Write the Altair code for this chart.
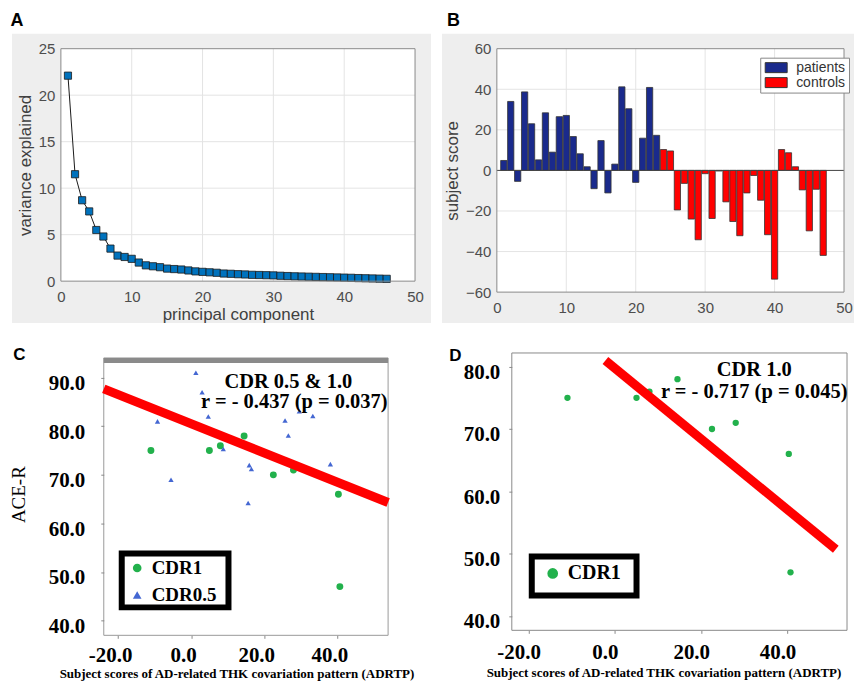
import altair as alt
import pandas as pd

SANS = "Liberation Sans"
SERIF = "Liberation Serif"
GRID = "#e4e4e4"
BOX = "#8a8a8a"

# ---------------- data ----------------
# Panel A : scree plot
pc_index = list(range(1, 47))
variance_explained = [22.1, 11.5, 8.7, 7.5, 5.5, 4.8, 3.5, 2.75, 2.6, 2.4,
                      2.0, 1.7, 1.6, 1.5, 1.35, 1.3, 1.25, 1.15, 1.05, 1.0,
                      0.95, 0.9, 0.82, 0.79, 0.75, 0.72, 0.68, 0.66, 0.64, 0.62,
                      0.58, 0.55, 0.52, 0.5, 0.48, 0.46, 0.44, 0.42, 0.4, 0.38,
                      0.36, 0.33, 0.31, 0.29, 0.27, 0.25]
a_x_ticks = [0, 10, 20, 30, 40, 50]
a_y_ticks = [0, 5, 10, 15, 20, 25]

# Panel B : subject scores
subject_index = list(range(1, 48))
subject_score = [4.9, 34.0, -5.4, 38.7, 23.0, 5.2, 28.4, 9.0, 26.5, 27.1,
                 16.7, 8.2, 1.8, -9.0, 14.7, -11.1, 3.1, 41.2, 30.4, -5.9,
                 15.9, 40.9, 17.3,
                 10.3, 9.6, -19.5, -6.4, -24.0, -34.2, -1.6, -23.7, -0.3, -15.5,
                 -25.2, -32.2, -11.1, -2.5, -14.7, -31.7, -53.6, 10.3, 8.7, 1.8,
                 -9.6, -29.8, -9.3, -41.9]
subject_group = ["patients"] * 23 + ["controls"] * 24
b_groups = ["patients", "controls"]
b_x_ticks = [0, 10, 20, 30, 40, 50]
b_y_ticks = [-60, -40, -20, 0, 20, 40, 60]

# Panels C / D : ACE-R vs ADRTP scores
cdr1_x = [-11.0, 5.0, 8.0, 14.5, 22.5, 28.0, 40.3, 40.7]
cdr1_y = [75.0, 75.0, 76.0, 78.0, 70.0, 71.0, 66.0, 47.0]
cdr05_x = [1.3, 3.0, -9.2, 4.7, 8.8, -5.5, 15.9, 16.5, 15.6, 25.7, 26.6, 29.6, 33.3, 38.1]
cdr05_y = [91.0, 87.0, 81.0, 82.0, 75.3, 69.0, 72.0, 71.2, 64.2, 81.2, 78.1, 83.1, 82.1, 72.2]
cdr_groups = ["CDR1", "CDR0.5"]
c_fit_x = [-23.9, 53.9]
c_fit_y = [87.7, 64.3]
d_fit_x = [-2.2, 51.2]
d_fit_y = [81.0, 50.7]
cd_x_ticks = [-20, 0, 20, 40]
c_y_ticks = [40, 50, 60, 70, 80, 90]
d_y_ticks = [40, 50, 60, 70, 80]
c_annotations = ["CDR 0.5 & 1.0", "r = - 0.437 (p = 0.037)"]
d_annotations = ["CDR 1.0", "r = - 0.717 (p = 0.045)"]
x_title_cd = "Subject scores of AD-related THK covariation pattern (ADRTP)"


# ---------------- helpers ----------------
def prect(x1, x2, y1, y2, **mk):
    return alt.Chart(alt.Data(values=[{"k": 1}])).mark_rect(**mk).encode(
        x=alt.value(x1), x2=alt.value(x2), y=alt.value(y1), y2=alt.value(y2))


def ptext(s, x, y, **mk):
    return alt.Chart(alt.Data(values=[{"t": s}])).mark_text(**mk).encode(
        x=alt.value(x), y=alt.value(y), text="t:N")


def frame(x1, x2, y1, y2, color, width=1):
    return prect(x1, x2, y1, y2, fill="white", fillOpacity=0, stroke=color, strokeWidth=width)


def matlab_axis(values, title, lp, tp):
    return alt.Axis(values=values, title=title, grid=False, ticks=False, domain=False,
                    labelFont=SANS, labelFontSize=15, labelColor="#4d4d4d", labelPadding=lp,
                    labelFlush=False, labelOverlap=False,
                    titleFont=SANS, titleFontSize=17, titleFontWeight="normal",
                    titleColor="#404040", titlePadding=tp, zindex=1)


NEG = "(datum.value < 0 ? '-' : '') + format(abs(datum.value), '.1f')"


def serif_x_axis(title_x, lo, lp, tp):
    return alt.Axis(values=cd_x_ticks, labelExpr=NEG, title=x_title_cd, grid=False, domain=False,
                    ticks=True, tickSize=3, tickColor=BOX, labelFont=SERIF, labelFontWeight="bold",
                    labelFontSize=21, labelColor="black", labelOffset=lo, labelPadding=lp,
                    labelFlush=False, labelOverlap=False,
                    titleFont=SERIF, titleFontSize=13, titleFontWeight="bold", titleColor="black",
                    titlePadding=tp, titleX=title_x, titleAlign="center", zindex=1)


def serif_y_axis(values, title, lp, tp):
    kw = dict(values=values, labelExpr=NEG, grid=False, domain=False, ticks=True, tickSize=3,
              tickColor=BOX, labelFont=SERIF, labelFontWeight="bold", labelFontSize=21,
              labelColor="black", labelOffset=6, labelPadding=lp, labelOverlap=False, zindex=1)
    if title:
        kw.update(title=title, titleFont=SERIF, titleFontSize=19, titleFontWeight="normal",
                  titleColor="black", titlePadding=tp)
    else:
        kw.update(title=None)
    return alt.Axis(**kw)


def spacer():
    return prect(0, 1, 0, 1, fill="white", opacity=0).properties(width=1, height=1)


# ---------------- Panel A ----------------
WA, HA = 355, 233
axA_x = matlab_axis(a_x_ticks, "principal component", 8, 2)
axA_y = matlab_axis(a_y_ticks, "variance explained", 6, 4)


def xA():
    return alt.X("pc:Q", scale=alt.Scale(domain=[0, 50], nice=False, zero=False), axis=axA_x)


def yA():
    return alt.Y("var:Q", scale=alt.Scale(domain=[0, 25], nice=False), axis=axA_y)


dfA = pd.DataFrame({"pc": pc_index, "var": variance_explained})
panelA = alt.layer(
    prect(-52, 377, -40, 277, fill="white"),
    prect(-49, 371, -15, 275, fill="#eeeeee"),
    prect(0, WA, 0, HA, fill="white"),
    alt.Chart(pd.DataFrame({"pc": a_x_ticks[1:-1]})).mark_rule(color=GRID).encode(x=xA()),
    alt.Chart(pd.DataFrame({"var": a_y_ticks[1:-1]})).mark_rule(color=GRID).encode(y=yA()),
    alt.Chart(dfA).mark_line(color="#1a1a1a", strokeWidth=1).encode(x=xA(), y=yA()),
    alt.Chart(dfA).mark_square(size=52, fill="#0072bd", stroke="#1a1a1a", strokeWidth=0.8,
                               opacity=1).encode(x=xA(), y=yA()),
    frame(0, WA, 0, HA, BOX),
    ptext("A", -44, -23, font=SANS, fontSize=18, fontWeight="bold", align="center",
          baseline="alphabetic", color="black"),
).properties(width=WA, height=HA)

# ---------------- Panel B ----------------
WB, HB = 348, 244
axB_x = matlab_axis(b_x_ticks, None, 8, 3)
axB_y = matlab_axis(b_y_ticks, "subject score", 6, 4)


def xB(field="x0"):
    return alt.X(f"{field}:Q", scale=alt.Scale(domain=[0, 50], nice=False, zero=False), axis=axB_x)


def yB():
    return alt.Y("score:Q", scale=alt.Scale(domain=[-60, 60], nice=False), axis=axB_y)


dfB = pd.DataFrame({"idx": subject_index, "score": subject_score, "group": subject_group})
legB = alt.Legend(title=None, orient="none", legendX=WB - 84, legendY=9, direction="vertical",
                  fillColor="white", strokeColor="#888", padding=3, rowPadding=1,
                  symbolType="M-2.2,-1H2.2V1H-2.2Z", symbolSize=100, symbolOffset=6,
                  symbolStrokeColor="#333", symbolStrokeWidth=1, labelOffset=13,
                  labelFont=SANS, labelFontSize=14, labelColor="#333")
barsB = alt.Chart(dfB).transform_calculate(
    x0="datum.idx - 0.45", x1="datum.idx + 0.45"
).mark_rect(stroke="#333", strokeWidth=0.8).encode(
    x=xB("x0"), x2="x1:Q", y=yB(), y2=alt.datum(0),
    color=alt.Color("group:N", scale=alt.Scale(domain=b_groups, range=["#1a2a8c", "#ff0000"]),
                    legend=legB))
panelB = alt.layer(
    prect(-60, 358, -40, 277, fill="white"),
    prect(-55, 358, -15, 275, fill="#eeeeee"),
    prect(0, WB, 0, HB, fill="white"),
    alt.Chart(pd.DataFrame({"x0": b_x_ticks[1:-1]})).mark_rule(color=GRID).encode(x=xB("x0")),
    alt.Chart(pd.DataFrame({"score": b_y_ticks[1:-1]})).mark_rule(color=GRID).encode(y=yB()),
    barsB,
    alt.Chart(pd.DataFrame({"score": [0]})).mark_rule(color="#444", strokeWidth=1).encode(y=yB()),
    frame(0, WB, 0, HB, BOX),
    ptext("B", -43.5, -23, font=SANS, fontSize=18, fontWeight="bold", align="center",
          baseline="alphabetic", color="black"),
).properties(width=WB, height=HB)

# ---------------- Panel C ----------------
WC, HC = 285, 283
axC_x = serif_x_axis(133, -8, 6, 2)
axC_y = serif_y_axis(c_y_ticks, "ACE-R", 16, 20)


def xC():
    return alt.X("x:Q", scale=alt.Scale(domain=[-23.9, 53.9], nice=False, zero=False), axis=axC_x)


def yC():
    return alt.Y("y:Q", scale=alt.Scale(domain=[36.97, 95.08], nice=False, zero=False), axis=axC_y)


dfC1 = pd.DataFrame({"x": cdr1_x, "y": cdr1_y, "cdr": ["CDR1"] * len(cdr1_x)})
dfC05 = pd.DataFrame({"x": cdr05_x, "y": cdr05_y, "cdr": ["CDR0.5"] * len(cdr05_x)})
legC = alt.Legend(title=None, orient="none", legendX=19, legendY=201, padding=5, rowPadding=7,
                  symbolSize=75, symbolStrokeWidth=0, labelFont=SERIF, labelFontSize=19,
                  labelFontWeight="bold", labelColor="black", labelOffset=5)
colC = alt.Color("cdr:N", scale=alt.Scale(domain=cdr_groups, range=["#22b14c", "#4467d2"]), legend=legC)
shpC = alt.Shape("cdr:N", scale=alt.Scale(domain=cdr_groups, range=["circle", "triangle-up"]), legend=legC)
ptsC1 = alt.Chart(dfC1).mark_point(filled=True, opacity=1, size=48).encode(
    x=xC(), y=yC(), color=colC, shape=shpC)
ptsC05 = alt.Chart(dfC05).mark_point(filled=True, opacity=1, size=28).encode(
    x=xC(), y=yC(), color=colC, shape=shpC)
fitC = alt.Chart(pd.DataFrame({"x": c_fit_x, "y": c_fit_y})).mark_line(
    color="#ff0000", strokeWidth=9, strokeCap="butt").encode(x=xC(), y=yC())
panelC = alt.layer(
    prect(-93, 336, -28, 328, fill="white"),
    frame(0, WC, 5, HC, "#9a9a9a"),
    prect(0, WC, 5, 10, fill="#8a8a8a"),
    prect(18, 125, 201, 255, fill="white", stroke="black", strokeWidth=6),
    ptsC1,
    ptsC05,
    fitC,
    ptext(c_annotations[0], 185, 29, font=SERIF, fontSize=20.5, fontWeight="bold", align="center",
          baseline="middle", color="black"),
    ptext(c_annotations[1], 191, 49, font=SERIF, fontSize=20.5, fontWeight="bold", align="center",
          baseline="middle", color="black"),
    ptext("C", -84.5, 7, font=SANS, fontSize=17, fontWeight="bold", align="center",
          baseline="alphabetic", color="black"),
).properties(width=WC, height=HC)

# ---------------- Panel D ----------------
WD, HD = 336, 278
axD_x = serif_x_axis(152, -10, 8, 4)
axD_y = serif_y_axis(d_y_ticks, None, 9, 0)


def xD():
    return alt.X("x:Q", scale=alt.Scale(domain=[-23.9, 53.8], nice=False, zero=False), axis=axD_x)


def yD():
    return alt.Y("y:Q", scale=alt.Scale(domain=[37.7, 82.2], nice=False, zero=False), axis=axD_y)


dfD = pd.DataFrame({"x": cdr1_x, "y": cdr1_y, "cdr": ["CDR1"] * len(cdr1_x)})
legD = alt.Legend(title=None, orient="none", legendX=26, legendY=206, padding=5,
                  symbolSize=115, symbolStrokeWidth=0, symbolType="circle", labelFont=SERIF,
                  labelFontSize=20, labelFontWeight="bold", labelColor="black", labelOffset=5)
ptsD = alt.Chart(dfD).mark_circle(size=40, opacity=1).encode(
    x=xD(), y=yD(),
    color=alt.Color("cdr:N", scale=alt.Scale(domain=["CDR1"], range=["#22b14c"]), legend=legD))
fitD = alt.Chart(pd.DataFrame({"x": d_fit_x, "y": d_fit_y})).mark_line(
    color="#ff0000", strokeWidth=9, strokeCap="butt").encode(x=xD(), y=yD())
panelD = alt.layer(
    prect(-73, 345, -28, 328, fill="white"),
    frame(0, WD, 0, HD, "#8a8a8a"),
    prect(20, 125, 204, 243, fill="white", stroke="black", strokeWidth=6),
    ptsD,
    fitD,
    ptext(d_annotations[0], 243, 17, font=SERIF, fontSize=20.5, fontWeight="bold", align="center",
          baseline="middle", color="black"),
    ptext(d_annotations[1], 243, 39, font=SERIF, fontSize=20.5, fontWeight="bold", align="center",
          baseline="middle", color="black"),
    ptext("D", -56.5, 8, font=SANS, fontSize=17, fontWeight="bold", align="center",
          baseline="alphabetic", color="black"),
).properties(width=WD, height=HD)

# ---------------- assemble ----------------
RES = dict(x="independent", y="independent", color="independent", shape="independent")
LEG = dict(color="independent", shape="independent")
row1 = alt.hconcat(spacer(), panelA, panelB, spacing=0).resolve_scale(**RES).resolve_legend(**LEG)
row2 = alt.hconcat(spacer(), panelC, panelD, spacing=0).resolve_scale(**RES).resolve_legend(**LEG)
chart = alt.vconcat(row1, row2, spacing=0).resolve_scale(**RES).resolve_legend(
    **LEG).properties(padding=0).configure_view(stroke=None)

chart.save("out.html", embed_options={"renderer": "svg", "actions": False})
